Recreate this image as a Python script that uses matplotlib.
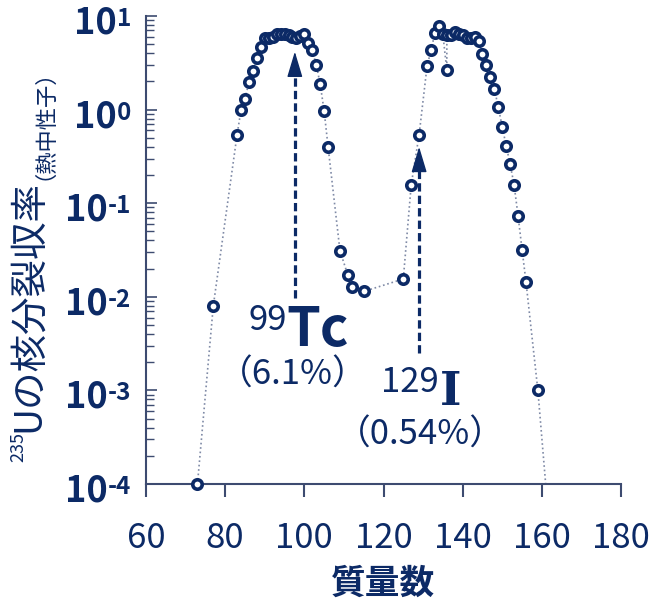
import numpy as np
import matplotlib.pyplot as plt
from matplotlib.ticker import LogLocator, NullFormatter, FixedLocator
from matplotlib.transforms import IdentityTransform

plt.rcParams['font.family'] = ['Noto Sans CJK JP', 'DejaVu Sans']

navy = '#0c2a66'
axis_col = '#3d4b70'
line_col = '#7f8aa6'

# mass number / fission yield (%)
mass = [73, 77, 83, 84, 85, 86, 87, 88, 89, 90, 91, 92, 93, 94, 95, 96, 97, 98,
        99, 100, 101, 102, 103, 104, 105, 106, 109, 111, 112, 115, 125, 127,
        129, 131, 132, 133, 134, 135, 136, 136, 137, 138, 139, 140, 141, 142,
        143, 144, 145, 146, 147, 148, 149, 150, 151, 152, 153, 154, 155, 156,
        159, 162]
fission_yield = [1.0e-4, 8.0e-3, 0.535, 0.99, 1.30, 1.95, 2.57, 3.55, 4.70,
                 5.85, 5.85, 5.95, 6.35, 6.45, 6.50, 6.25, 6.00, 5.80, 6.10,
                 6.35, 5.20, 4.28, 3.03, 1.88, 0.97, 0.40, 0.031, 0.017,
                 0.0128, 0.0114, 0.0155, 0.157, 0.54, 2.90, 4.30, 6.60, 7.90,
                 6.40, 2.62, 6.30, 6.20, 6.70, 6.40, 6.20, 5.85, 5.85, 5.95,
                 5.45, 3.92, 2.98, 2.24, 1.66, 1.07, 0.65, 0.41, 0.26, 0.156,
                 0.073, 0.032, 0.0144, 1.0e-3, 3.0e-5]

x_ticks = [60, 80, 100, 120, 140, 160, 180]
y_exps = [-4, -3, -2, -1, 0, 1]

W, H = 649, 603
fig = plt.figure(figsize=(W / 100, H / 100), dpi=100)
ax = fig.add_axes([146 / W, 1 - 484 / H, 475 / W, 468 / H])
ax.set_yscale('log')
ax.set_xlim(60, 180)
ax.set_ylim(1e-4, 1e1)

m = np.array(mass)
v = np.array(fission_yield)
ax.plot(m, v, ls=':', color=line_col, lw=1.2, zorder=2)
vis = v >= 1e-4
ax.plot(m[vis], v[vis], ls='none', marker='o', ms=6.8, mfc='white',
        mec=navy, mew=2.6, clip_on=False, zorder=3)


def dashed_arrow(x, y_low, y_base, y_tip):
    ax.plot([x, x], [y_low, y_base], ls=(0, (2.6, 1.3)), color=navy, lw=2.3,
            zorder=4)
    ax.annotate('', xy=(x, y_tip), xytext=(x, y_base * 0.9),
                arrowprops=dict(arrowstyle='-|>,head_length=1.0,head_width=0.3',
                                color=navy, lw=1, mutation_scale=16,
                                shrinkA=0, shrinkB=0), zorder=4)


dashed_arrow(97.6, 0.0097, 2.98, 4.16)
dashed_arrow(129.0, 0.0025, 0.226, 0.40)

# labels for 99Tc and 129I
ax.text(95.5, 0.00442, '99', ha='right', va='baseline', fontsize=25, color=navy)
ax.text(95.5, 0.00298, 'Tc', ha='left', va='baseline', fontsize=39,
        fontweight='bold', color=navy)
ax.text(97.1, 0.00114, '（6.1%）', ha='center', va='baseline', fontsize=25,
        color=navy)
ax.text(133.9, 0.00096, '129', ha='right', va='baseline', fontsize=25, color=navy)
ax.text(134.3, 0.0007, 'I', ha='left', va='baseline', fontsize=33,
        fontweight='bold', family='DejaVu Serif', color=navy)
ax.text(129.2, 0.00026, '（0.54%）', ha='center', va='baseline', fontsize=25,
        color=navy)

# axes styling
for s in ['top', 'right']:
    ax.spines[s].set_visible(False)
for s in ['left', 'bottom']:
    ax.spines[s].set_color(axis_col)
    ax.spines[s].set_linewidth(1.5)

ax.xaxis.set_major_locator(FixedLocator(x_ticks))
ax.tick_params(axis='x', direction='out', length=9.4, width=1.5, color=axis_col,
               labelsize=25, labelcolor=navy, pad=17)
ax.yaxis.set_major_locator(FixedLocator([10.0 ** e for e in y_exps]))
ax.yaxis.set_minor_locator(LogLocator(base=10, subs=range(2, 10)))
ax.yaxis.set_minor_formatter(NullFormatter())
ax.tick_params(axis='y', which='major', direction='in', length=8, width=1.2,
               color=axis_col, labelleft=False)
ax.tick_params(axis='y', which='minor', direction='in', length=6, width=1.0,
               color=axis_col)

fig.text(383.5 / W, 1 - 583 / H, '質量数', ha='center', va='center',
         fontsize=25, fontweight='bold', color=navy)

fig.canvas.draw()
r = fig.canvas.get_renderer()
ident = IdentityTransform()

# y tick labels 10^n drawn as base + superscript
for e in y_exps:
    ty = ax.transData.transform((60, 10.0 ** e))[1]
    sup = fig.text(131, ty - 10, str(e), transform=ident, ha='right',
                   va='baseline', fontsize=17.5, fontweight='bold', color=navy)
    w = sup.get_window_extent(r).width
    fig.text(131 - w, ty - 17.5, '10', transform=ident, ha='right',
             va='baseline', fontsize=26, fontweight='bold', color=navy)

# y label built from pieces of different size
pieces = [('235', 23, 13), ('Uの核分裂収率', 39, 27), ('（熱中性子）', 39, 16)]
y_pos = H - 462
for txt, xb, size in pieces:
    t = fig.text(xb, y_pos, txt, transform=ident, rotation=90,
                 rotation_mode='anchor', ha='left', va='baseline',
                 fontsize=size, color=navy)
    y_pos += t.get_window_extent(r).height

fig.savefig('out.png', dpi=100)
